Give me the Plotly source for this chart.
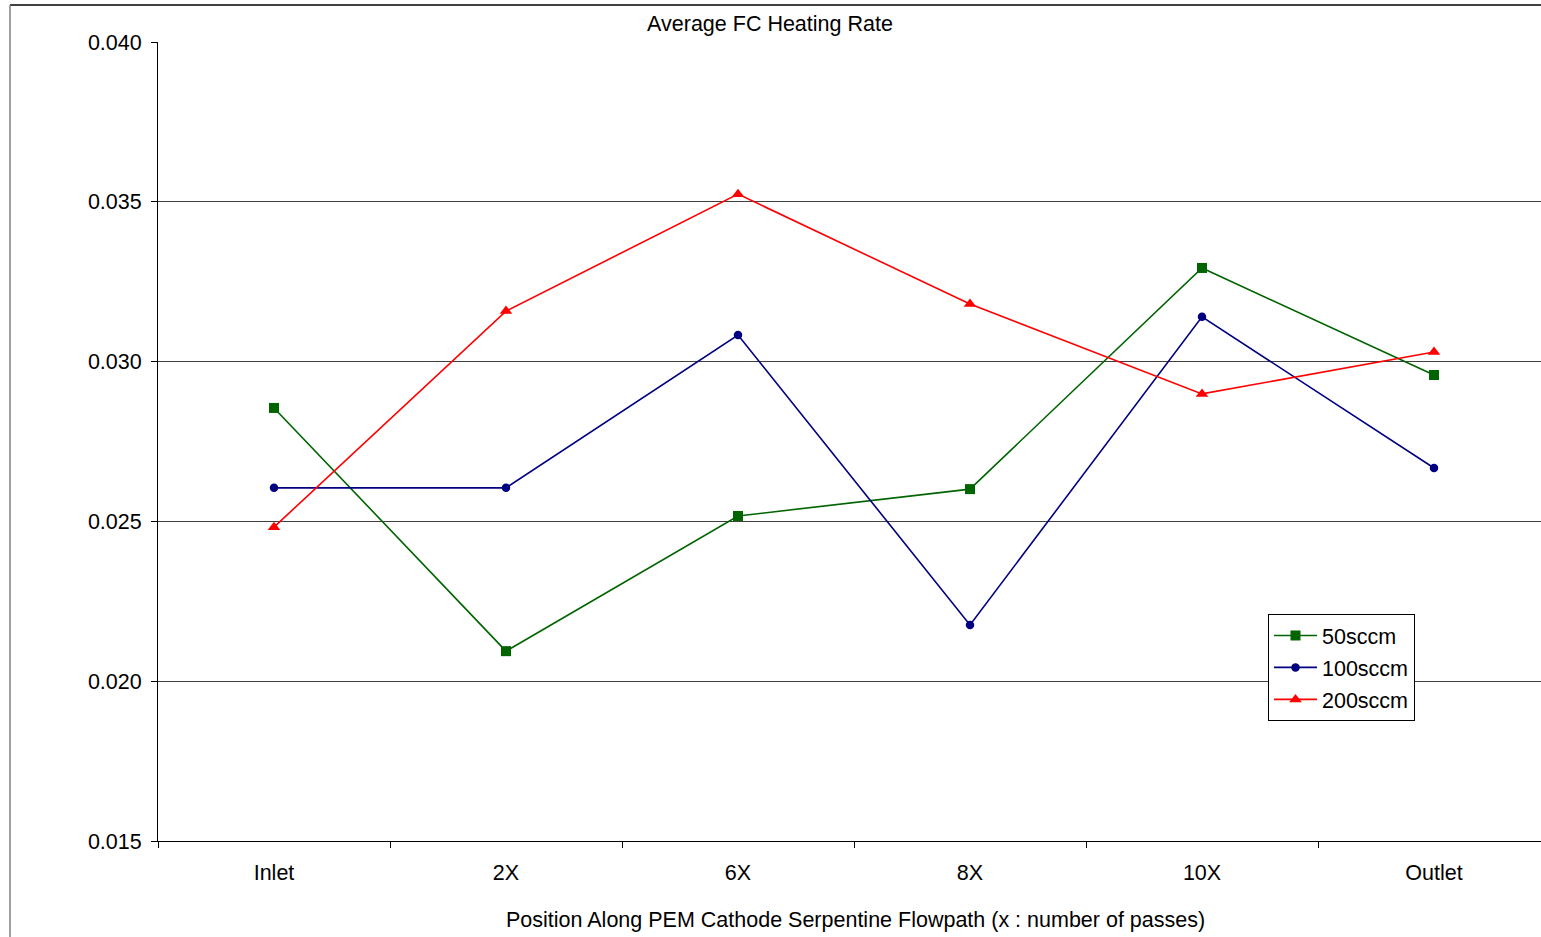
import plotly.graph_objects as go

categories = ["Inlet", "2X", "6X", "8X", "10X", "Outlet"]
s50 = [0.02855, 0.02094, 0.02517, 0.02601, 0.03293, 0.02958]
s100 = [0.02605, 0.02605, 0.03083, 0.02176, 0.03140, 0.02667]
s200 = [0.02482, 0.03158, 0.03524, 0.03180, 0.02899, 0.03030]
series_names = ["50sccm", "100sccm", "200sccm"]
yticks = [0.015, 0.020, 0.025, 0.030, 0.035, 0.040]
x_title = "Position Along PEM Cathode Serpentine Flowpath (x : number of passes)"

FONT = "Liberation Sans, Arial, sans-serif"
FS = 21.5
colors = ["#006400", "#000080", "#FF0000"]
symbols = ["square", "circle", "triangle-up"]
sizes = [10, 8.5, 11]

fig = go.Figure()
for i, (name, vals, c, sym, sz) in enumerate(zip(series_names, [s50, s100, s200], colors, symbols, sizes)):
    fig.add_trace(go.Scatter(
        x=categories, y=vals, name=name, mode="lines+markers",
        legendgroup=f"g{i}",
        line=dict(color=c, width=1.6),
        marker=dict(symbol=sym, size=sz, color=c),
    ))

W, H = 1541, 937
L, T, B = 158, 42, 96
pw = W - L
ph = H - T - B

fig.update_layout(
    width=W, height=H,
    margin=dict(l=L, r=0, t=T, b=B, pad=0),
    paper_bgcolor="white", plot_bgcolor="white",
    font=dict(family=FONT, size=FS, color="black"),
    title=dict(text="Average FC Heating Rate", x=770 / W, xanchor="center",
               y=1 - 23 / H, yanchor="middle", font=dict(size=FS, family=FONT)),
    showlegend=True,
    legend=dict(x=(1268 - L) / pw, y=(H - B - 614) / ph, xanchor="left", yanchor="top",
                bordercolor="black", borderwidth=1, bgcolor="white",
                font=dict(size=FS, family=FONT), tracegroupgap=1,
                traceorder="grouped", itemwidth=43),
    xaxis=dict(
        type="category", range=[-0.5, 5.5 - 9 / 232],
        tickson="boundaries", ticks="outside", ticklen=6, tickcolor="black",
        showline=True, linecolor="black", linewidth=1, showgrid=False,
        zeroline=False, tickfont=dict(size=FS, family=FONT),
        ticklabelstandoff=12,
        fixedrange=True,
    ),
    yaxis=dict(
        range=[0.015, 0.040], tickvals=yticks, tickformat=".3f",
        ticks="outside", ticklen=6, tickcolor="black",
        showline=True, linecolor="black", linewidth=1,
        showgrid=True, gridcolor="#404040", gridwidth=1,
        zeroline=False, tickfont=dict(size=FS, family=FONT),
        ticklabelstandoff=5,
        fixedrange=True,
    ),
)

# x-axis title (centred on the full category span)
fig.add_annotation(text=x_title, xref="paper", yref="paper",
                   x=(855 - L) / pw, y=-(920 - (H - B)) / ph,
                   xanchor="center", yanchor="middle", showarrow=False,
                   font=dict(size=FS, family=FONT, color="black"))

# outer chart-area border (top and left edges visible)
fig.add_shape(type="line", xref="paper", yref="paper",
              x0=(10 - L) / pw, x1=1.05, y0=(H - B - 5) / ph, y1=(H - B - 5) / ph,
              line=dict(color="black", width=1.5))
fig.add_shape(type="line", xref="paper", yref="paper",
              x0=(10 - L) / pw, x1=(10 - L) / pw, y0=(H - B - 5) / ph, y1=-0.2,
              line=dict(color="#808080", width=1.5))

fig.write_html("out.html", config={"displayModeBar": False})
